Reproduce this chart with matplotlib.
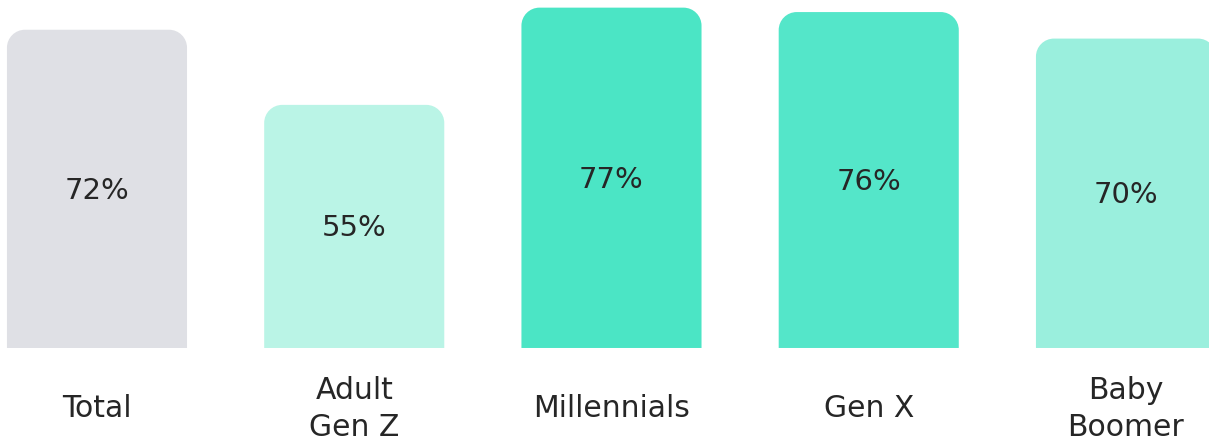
import matplotlib
matplotlib.use("Agg")
import matplotlib.pyplot as plt
from matplotlib.path import Path
from matplotlib.patches import PathPatch

categories = ["Total", "Adult\nGen Z", "Millennials", "Gen X", "Baby\nBoomer"]
values = [72, 55, 77, 76, 70]
colors = ["#DFE0E5", "#BAF4E6", "#4BE5C5", "#54E6C9", "#9AEFDD"]

plt.rcParams["font.family"] = ["DejaVu Sans"]

W, H, DPI = 1209, 443, 100
fig = plt.figure(figsize=(W / DPI, H / DPI), dpi=DPI)
ax = fig.add_axes([0, 0, 1, 1])
ax.set_xlim(-0.377, 4.3227)
ax.set_ylim(-21.5, 78.73)
ax.axis("off")

bar_w = 0.7
# corner radius in data units (x and y scales differ)
px_x = (4.3227 + 0.377) / W
px_y = (78.73 + 21.5) / H
rx, ry = 18 * px_x, 18 * px_y
k = 0.5523


def top_rounded_bar(xc, h):
    x0, x1 = xc - bar_w / 2, xc + bar_w / 2
    verts = [
        (x0, 0), (x0, h - ry),
        (x0, h - ry + k * ry), (x0 + rx - k * rx, h), (x0 + rx, h),
        (x1 - rx, h),
        (x1 - rx + k * rx, h), (x1, h - ry + k * ry), (x1, h - ry),
        (x1, 0), (x0, 0),
    ]
    codes = [Path.MOVETO, Path.LINETO,
             Path.CURVE4, Path.CURVE4, Path.CURVE4,
             Path.LINETO,
             Path.CURVE4, Path.CURVE4, Path.CURVE4,
             Path.LINETO, Path.CLOSEPOLY]
    return Path(verts, codes)


for i, (cat, v, c) in enumerate(zip(categories, values, colors)):
    ax.add_patch(PathPatch(top_rounded_bar(i, v), facecolor=c, edgecolor="none"))
    ax.text(i, v / 2 - 0.4, f"{v}%", ha="center", va="center",
            fontsize=21, color="#262626")
    ax.text(i, -13.7, cat, ha="center", va="center", fontsize=21.5,
            color="#262626", linespacing=1.35)

fig.savefig("out.png", dpi=DPI)
